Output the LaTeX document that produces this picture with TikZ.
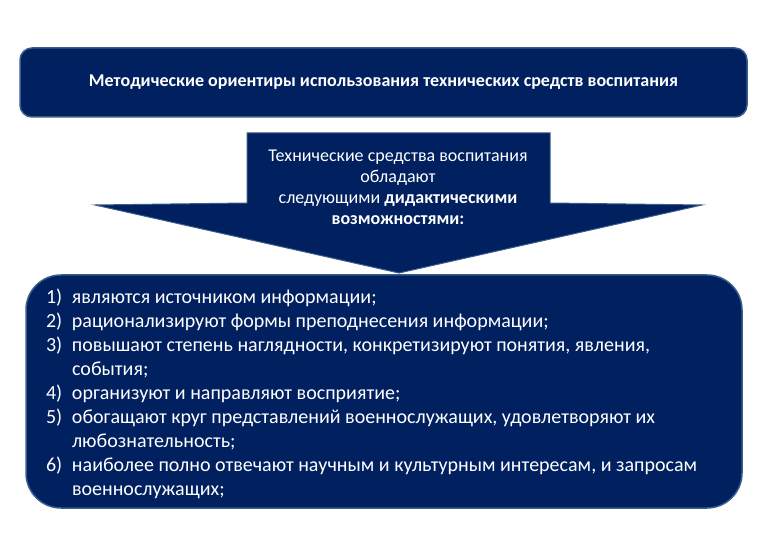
\documentclass[tikz,border=0pt]{standalone}
\usepackage{fontspec}
\setmainfont{Carlito}
\usetikzlibrary{shapes}
\definecolor{navy}{RGB}{0,32,96}
\definecolor{edgeblue}{RGB}{56,93,138}
\newcommand{\num}[1]{\makebox[26pt][l]{#1}}

\begin{document}
\begin{tikzpicture}[x=1pt,y=-1pt,
titlebox/.style={draw=edgeblue,line width=1.5pt,fill=navy,rounded corners=12pt,
  text=white,font=\bfseries\fontsize{18}{21}\selectfont,
  minimum width=727pt,minimum height=69pt},
arrowtext/.style={text=white,align=center,font=\fontsize{18}{21}\selectfont},
listbox/.style={draw=edgeblue,line width=1.5pt,fill=navy,rounded corners=35pt,
  minimum width=716pt,minimum height=233pt},
listtext/.style={text=white,align=flush left,font=\fontsize{20}{24}\selectfont,
  text width=676pt,inner sep=0pt}
]
\useasboundingbox (0,0) rectangle (780,540);
\fill[white] (0,0) rectangle (780,540);
\node[titlebox] (title) at (383.5,82.5)
  {Методические ориентиры использования технических средств воспитания};
\node[listbox] (list) at (384,391.5) {};
\node[listtext] (items) at (384,394) {%
\num{1)}являются источником информации;\\
\num{2)}рационализируют формы преподнесения информации;\\
\num{3)}повышают степень наглядности, конкретизируют понятия, явления,\\
\num{}события;\\
\num{4)}организуют и направляют восприятие;\\
\num{5)}обогащают круг представлений военнослужащих, удовлетворяют их\\
\num{}любознательность;\\
\num{6)}наиболее полно отвечают научным и культурным интересам, и запросам\\
\num{}военнослужащих;};
% block arrow
\draw[draw=edgeblue,fill=navy,line width=1pt] (247,133) -- (550,133) -- (550,203)
  -- (702,205) -- (399,273) -- (95,205) -- (247,203) -- cycle;
\node[arrowtext] (means) at (398,187)
  {Технические средства воспитания\\обладают\\следующими \textbf{дидактическими}\\\textbf{возможностями:}};
\end{tikzpicture}
\end{document}
